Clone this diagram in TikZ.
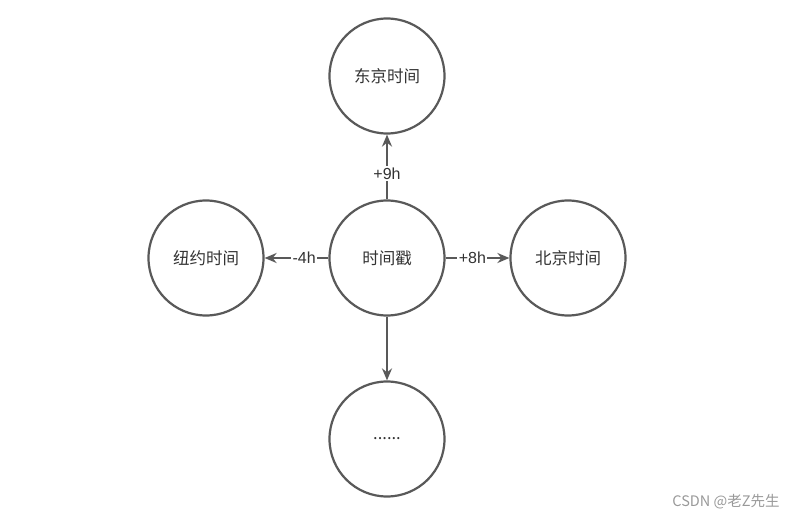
\documentclass[tikz,border=0pt]{standalone}
\usepackage{fontspec}
\setmainfont{Liberation Sans}
\newfontfamily\cjk{Noto Sans CJK SC}
\usetikzlibrary{arrows.meta}
\definecolor{ln}{HTML}{595959}
\definecolor{tx}{HTML}{333333}
\tikzset{
  circ/.style={circle, draw=ln, line width=2.2pt, minimum size=115pt, inner sep=0pt, font=\cjk\fontsize{16.5}{16.5}\selectfont, text=tx},
  conn/.style={draw=ln, line width=2.2pt, -{Stealth[length=12pt,width=10pt]}},
  lbl/.style={fill=white, inner sep=1.5pt, font=\fontsize{16}{16}\selectfont, text=tx}
}
\begin{document}
\begin{tikzpicture}[x=1pt,y=-1pt]
\useasboundingbox (0,0) rectangle (800,519);
\node[circ] (c) at (387,258) {时间戳};
\node[circ] (t) at (387,76) {东京时间};
\node[circ] (l) at (206,258) {纽约时间};
\node[circ] (r) at (568,258) {北京时间};
\node[circ] (b) at (387,439) {......};
\draw[conn] (c) -- node[lbl, pos=0.4] {+9h} (t);
\draw[conn] (c) -- node[lbl, pos=0.38] {-4h} (l);
\draw[conn] (c) -- node[lbl, pos=0.42] {+8h} (r);
\draw[conn] (c) -- (b);
\node[font=\cjk\fontsize{14.5}{14.5}\selectfont, text=black!40] (wm) at (726,502) {CSDN @老Z先生};
\end{tikzpicture}
\end{document}
